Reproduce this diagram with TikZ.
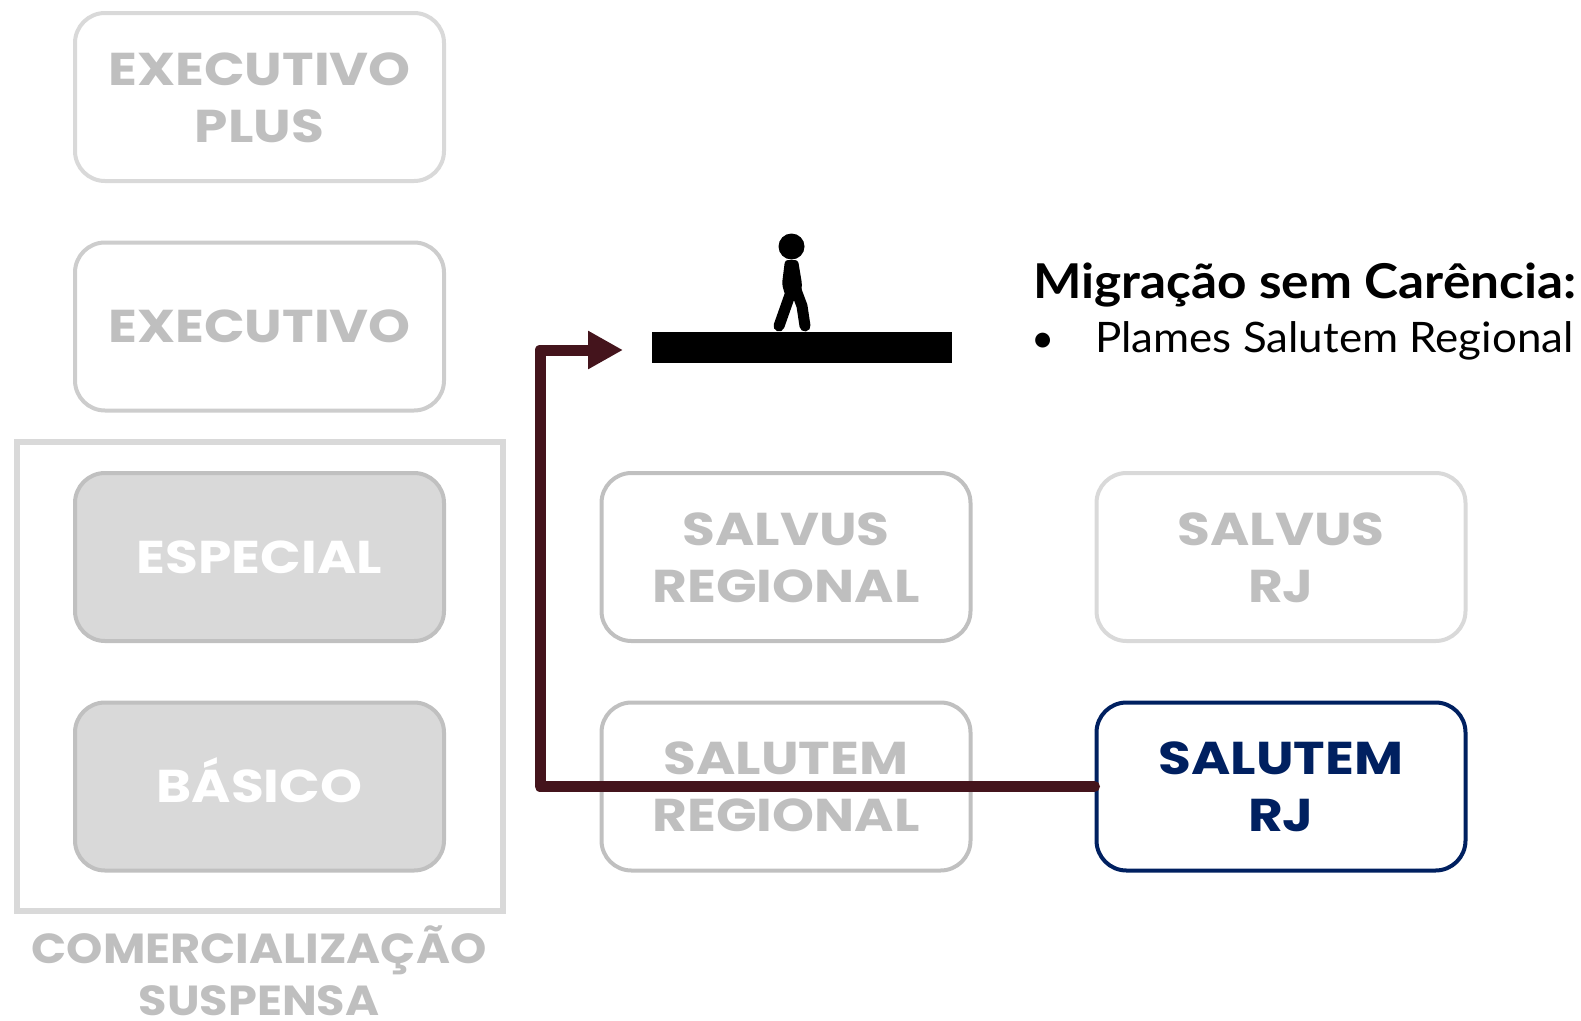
\documentclass[tikz,border=0pt]{standalone}
\usepackage{fontspec}
\setmainfont{Lato}
\newfontfamily\capfont{Poppins}[FakeStretch=1.16]
\newfontfamily\capfontb{Poppins}[FakeStretch=1.1]
\newfontfamily\titlefont{Lato}[FakeStretch=1.07]
\newfontfamily\itemfont{Lato}[FakeStretch=1.045]
\usetikzlibrary{arrows.meta}
\definecolor{lgA}{HTML}{D9D9D9}
\definecolor{lgB}{HTML}{CDCDCD}
\definecolor{lgC}{HTML}{C0C0C0}
\definecolor{txtgray}{HTML}{BFBFBF}
\definecolor{navy}{HTML}{002060}
\definecolor{maroon}{HTML}{44141C}
\begin{document}
\begin{tikzpicture}[x=1pt,y=-1pt,
  plan/.style={draw, rounded corners=30pt, line width=4pt, minimum width=369pt,
    minimum height=168pt, inner sep=0pt, align=center, text=txtgray,
    font=\capfont\bfseries\fontsize{46}{57}\selectfont},
  oneline/.style={text height=32pt, text depth=0pt},
  twoline/.style={text height=90pt, text depth=0pt},
  suspended/.style={plan, oneline, fill=lgA, draw=lgC, text=white},
  migr/.style={line width=11pt, draw=maroon, line cap=round, line join=round,
    -{Triangle[length=35pt,width=36pt,line cap=butt]}}
]
\useasboundingbox (0,0) rectangle (1581,1020);

% left column
\node[plan, twoline, draw=lgA] (eplus) at (259.5,97) {EXECUTIVO\\PLUS};
\node[plan, oneline, draw=lgB] (exec) at (259.5,326.5) {EXECUTIVO};
\node[draw=lgA, line width=5.5pt, minimum width=486pt, minimum height=469pt, inner sep=0pt] (susp) at (260,676.5) {};
\node[suspended] (esp) at (259.5,557) {ESPECIAL};
\node[suspended] (bas) at (259.5,786.5) {BÁSICO};
\node[anchor=north, inner sep=0pt, align=center, text=txtgray,
  font=\capfontb\bfseries\fontsize{42}{52}\selectfont,
  text height=82pt, text depth=0pt] (caption) at (259,933) {COMERCIALIZAÇÃO\\SUSPENSA};

% right columns
\node[plan, twoline, draw=lgC] (salvreg) at (786,557) {SALVUS\\REGIONAL};
\node[plan, twoline, draw=lgA] (salvrj) at (1281,557) {SALVUS\\RJ};
\node[plan, twoline, draw=lgC] (salureg) at (786,786.5) {SALUTEM\\REGIONAL};
\node[plan, twoline, draw=navy, text=navy] (salurj) at (1281,786.5) {SALUTEM\\RJ};

% platform and walker
\node[fill=black, minimum width=300pt, minimum height=31pt, inner sep=0pt] (platform) at (802,347.5) {};
\fill[black] (791.5,246.5) circle (13pt);
\fill[black, rounded corners=3pt] (785,260) -- (798,260) -- (802,284) -- (801,295) -- (785,295) -- (782,284) -- cycle;
\draw[black, line width=11pt, line cap=round] (791,292) -- (779,326);
\draw[black, line width=11pt, line cap=round, line join=round] (796,290) -- (802,306) -- (805,326);

% connector
\coordinate (tip) at (623,350);
\coordinate (bend) at (540,350);
\draw[migr] (salurj.west) -| (bend) -- (tip);

% text
\node[anchor=base west, inner sep=0pt, font=\titlefont\bfseries\fontsize{48}{56}\selectfont] (title) at (1033,298) {Migração sem Carência:};
\node[anchor=base, inner sep=0pt, font=\fontsize{40}{48}\selectfont] (bullet) at (1043,352) {•};
\node[anchor=base west, inner sep=0pt, font=\itemfont\fontsize{42}{48}\selectfont] (item) at (1095,352) {Plames Salutem Regional};
\end{tikzpicture}
\end{document}
